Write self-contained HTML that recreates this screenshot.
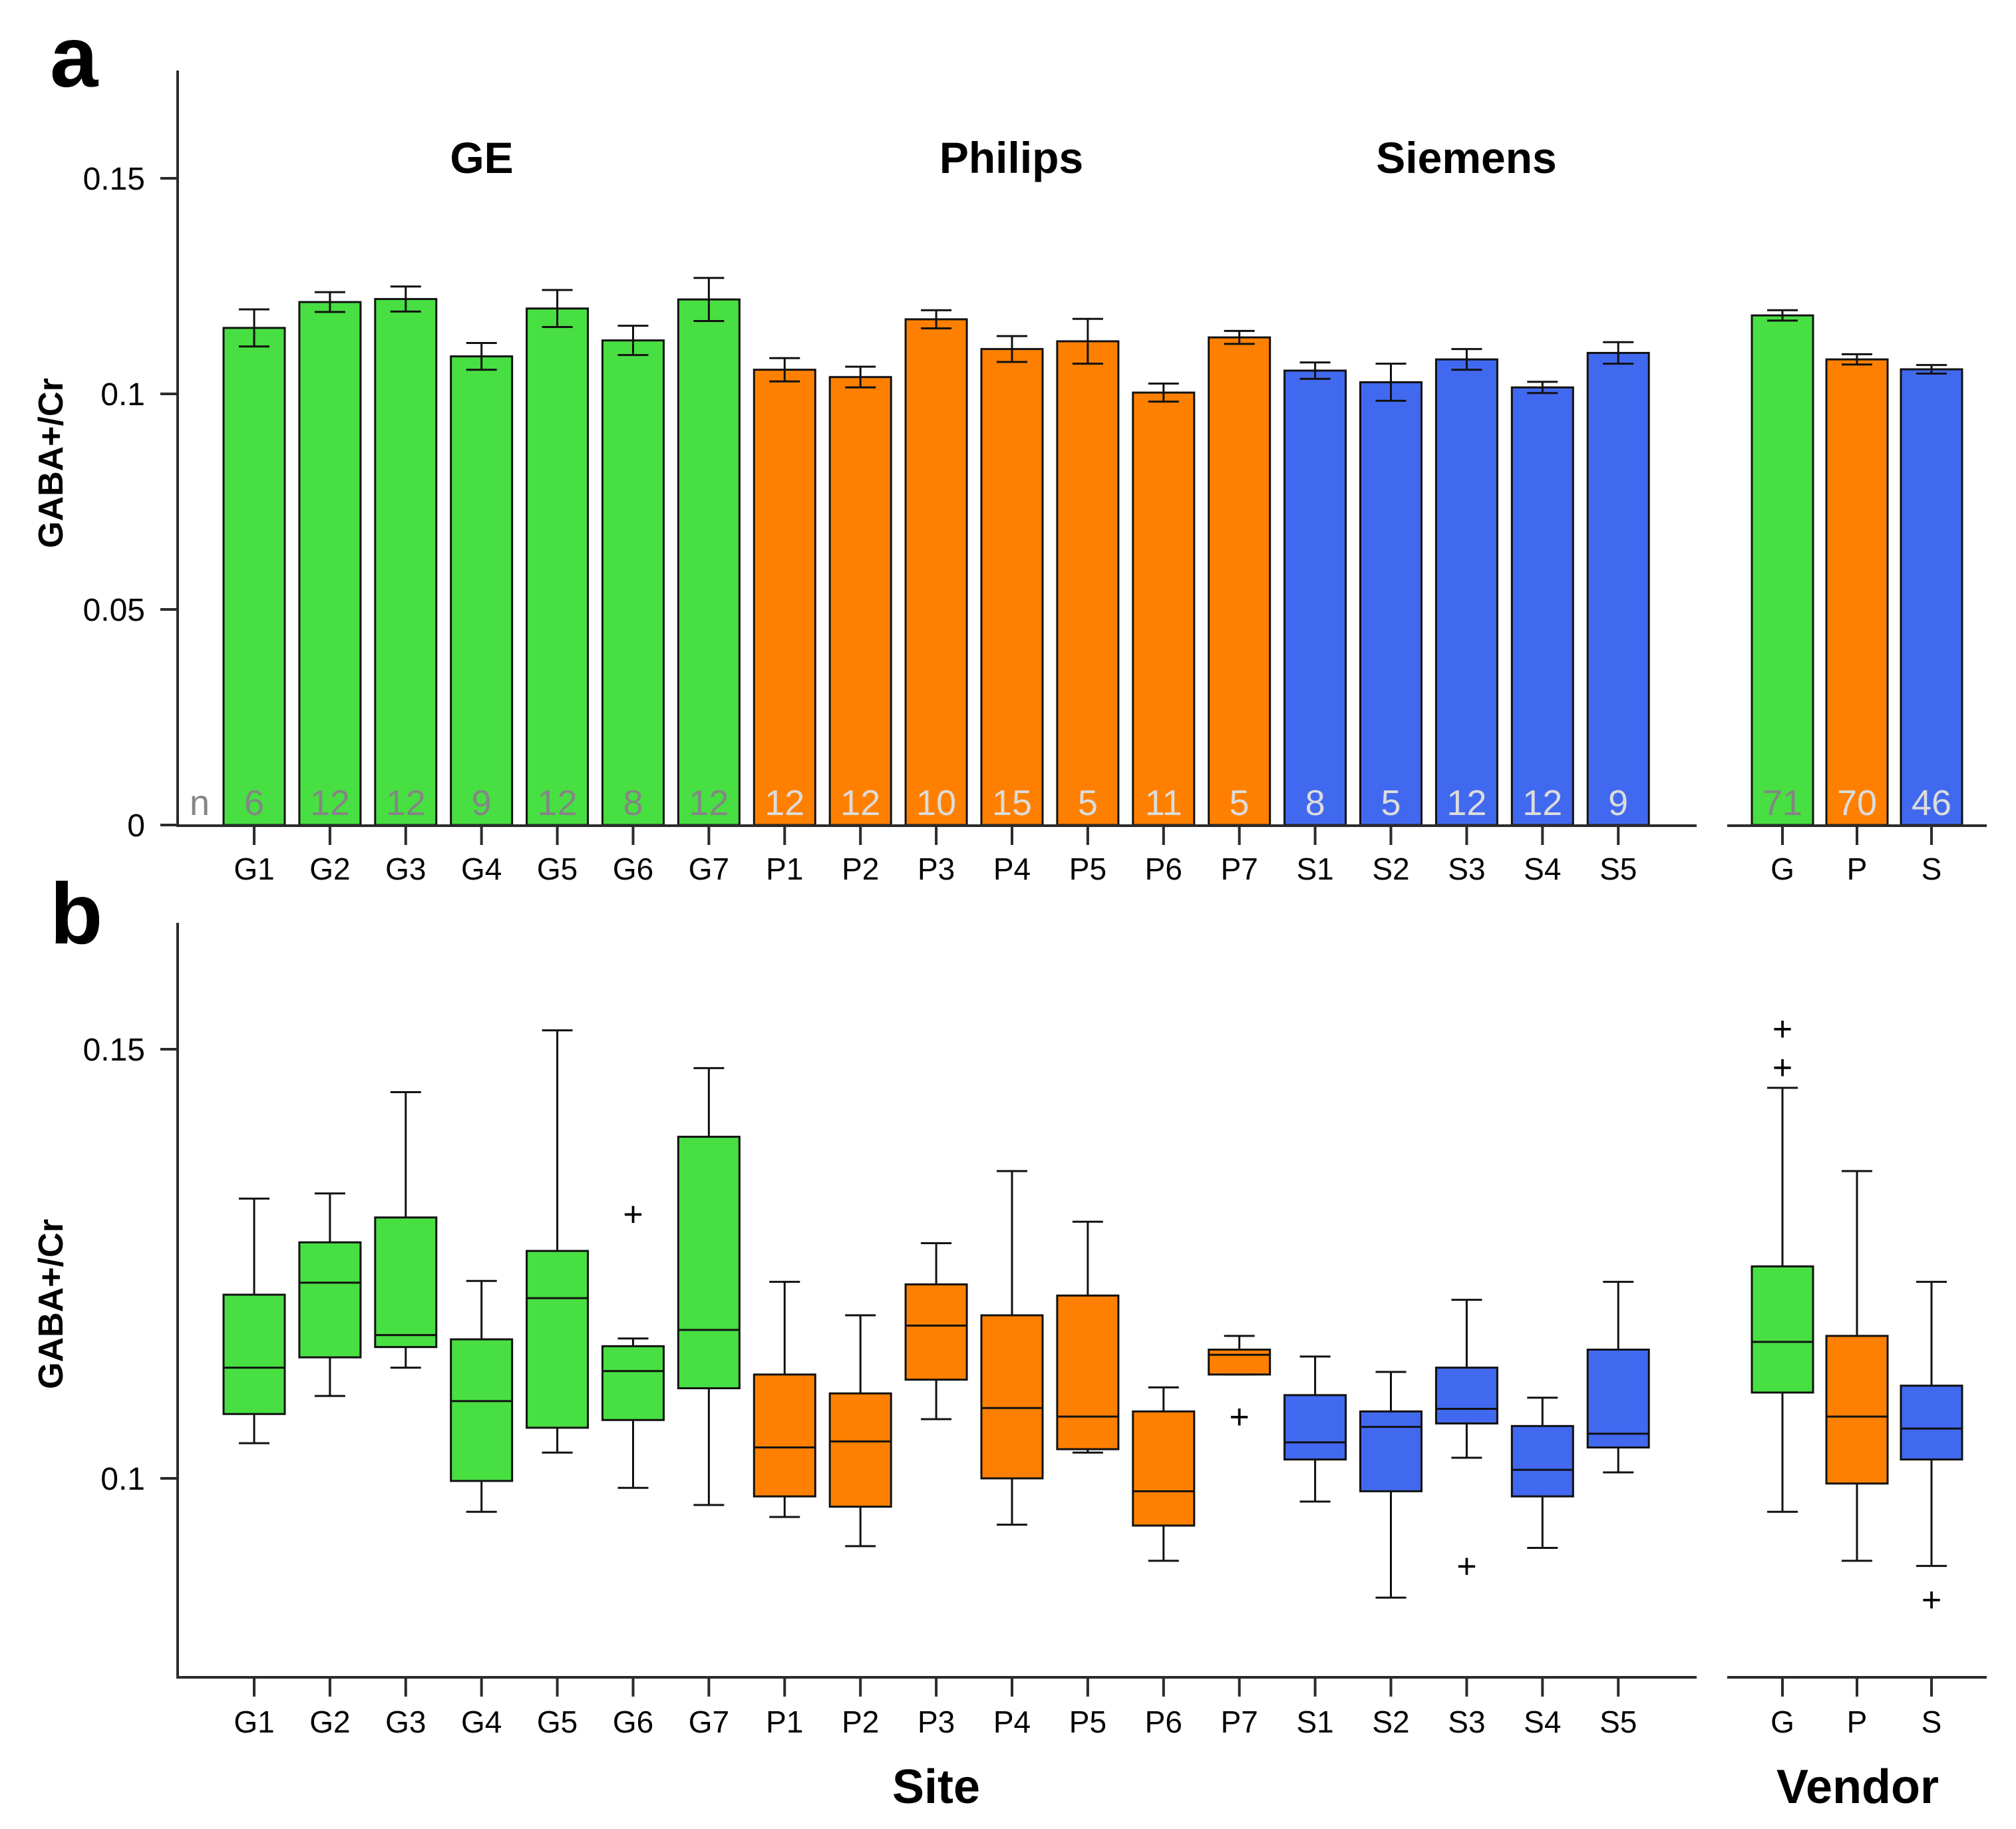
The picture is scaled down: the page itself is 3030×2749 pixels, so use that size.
<!DOCTYPE html>
<html><head><meta charset="utf-8"><style>
html,body{margin:0;padding:0;background:#fff;}
svg{display:block;font-family:"Liberation Sans",Arial,sans-serif;}
</style></head><body>
<svg id="chart" width="3030" height="2749" viewBox="0 0 3030 2749" xmlns="http://www.w3.org/2000/svg">
<text x="75" y="130" font-size="130" font-weight="bold">a</text>
<text x="75" y="1418" font-size="130" font-weight="bold">b</text>
<text transform="translate(94,696) rotate(-90)" text-anchor="middle" font-size="52" font-weight="bold">GABA+/Cr</text>
<text transform="translate(94,1960) rotate(-90)" text-anchor="middle" font-size="52" font-weight="bold">GABA+/Cr</text>
<text x="724" y="260" text-anchor="middle" font-size="66" font-weight="bold">GE</text>
<text x="1520" y="260" text-anchor="middle" font-size="66" font-weight="bold">Philips</text>
<text x="2204" y="260" text-anchor="middle" font-size="66" font-weight="bold">Siemens</text>
<text x="1407" y="2710" text-anchor="middle" font-size="72" font-weight="bold">Site</text>
<text x="2792" y="2710" text-anchor="middle" font-size="72" font-weight="bold">Vendor</text>
<g id="ga"></g><g id="gb"></g>
</svg>
<script>
const siteLabels=["G1","G2","G3","G4","G5","G6","G7","P1","P2","P3","P4","P5","P6","P7","S1","S2","S3","S4","S5"];
const vendorLabels=["G","P","S"];
const siteMeans=[0.1153,0.1213,0.1220,0.1087,0.1198,0.1124,0.1219,0.1056,0.1039,0.1173,0.1104,0.1122,0.1003,0.1131,0.1054,0.1027,0.1080,0.1015,0.1095];
const siteErr=[0.0043,0.0023,0.0029,0.0031,0.0043,0.0034,0.0050,0.0027,0.0024,0.0021,0.0030,0.0052,0.0021,0.0015,0.0019,0.0043,0.0024,0.0013,0.0025];
const siteN=[6,12,12,9,12,8,12,12,12,10,15,5,11,5,8,5,12,12,9];
const vendorMeans=[0.1182,0.1080,0.1057];
const vendorErr=[0.0012,0.0012,0.0010];
const vendorN=[71,70,46];
const yTicksA=[0,0.05,0.1,0.15];
const yTickLabelsA=["0","0.05","0.1","0.15"];
const yTicksB=[0.1,0.15];
const yTickLabelsB=["0.1","0.15"];
// box stats: [whiskerHigh, q3, median, q1, whiskerLow]
const siteBoxes=[
[0.1326,0.1214,0.1129,0.1075,0.1041],[0.1332,0.1275,0.1228,0.1141,0.1096],[0.1450,0.1304,0.1167,0.1153,0.1129],
[0.1230,0.1162,0.1090,0.0997,0.0961],[0.1522,0.1265,0.1210,0.1059,0.1030],[0.1163,0.1154,0.1125,0.1068,0.0989],
[0.1478,0.1398,0.1173,0.1105,0.0969],[0.1229,0.1121,0.1036,0.0979,0.0955],[0.1190,0.1099,0.1043,0.0967,0.0921],
[0.1274,0.1226,0.1178,0.1115,0.1069],[0.1358,0.1190,0.1082,0.1000,0.0946],[0.1299,0.1213,0.1072,0.1034,0.1030],
[0.1106,0.1078,0.0985,0.0945,0.0904],[0.1166,0.1150,0.1144,0.1121,0.1121],[0.1142,0.1097,0.1042,0.1022,0.0973],
[0.1124,0.1078,0.1060,0.0985,0.0861],[0.1208,0.1129,0.1081,0.1064,0.1024],[0.1094,0.1061,0.1010,0.0979,0.0919],
[0.1229,0.1150,0.1052,0.1036,0.1007]];
const siteOutliers=[[],[],[],[],[],[0.1308],[],[],[],[],[],[],[],[0.1072],[],[],[0.0898],[],[]];
const vendorBoxes=[[0.1455,0.1247,0.1159,0.1100,0.0961],[0.1358,0.1166,0.1072,0.0994,0.0904],[0.1229,0.1108,0.1058,0.1022,0.0898]];
const vendorOutliers=[[0.1524,0.1479],[],[0.0859]];

const NS="http://www.w3.org/2000/svg";
const colors={G:"#48df42",P:"#ff8000",S:"#4169ef"};
function el(parent,tag,attrs,text){const e=document.createElementNS(NS,tag);for(const k in attrs)e.setAttribute(k,attrs[k]);if(text!==undefined)e.textContent=text;parent.appendChild(e);return e;}
const siteX=i=>382+i*113.9;
const vendX=i=>2679+i*112;
const BW=92;
const yA=v=>1240-v*(1240-268)/0.15;
const yB=v=>2222-(v-0.1)*(2222-1577)/0.05;
const AX="#2b2b2b";

function axes(g,top,bottom,ticks,labels,yf,xLabelsY,pfx){
  let a=el(g,"line",{x1:267,y1:top,x2:267,y2:bottom,stroke:AX,"stroke-width":4});
  
  a=el(g,"line",{x1:265,y1:bottom,x2:2550,y2:bottom,stroke:AX,"stroke-width":4});
  
  a=el(g,"line",{x1:2596,y1:bottom,x2:2986,y2:bottom,stroke:AX,"stroke-width":4});
  
  ticks.forEach((t,i)=>{
    const y=yf(t);
    let l=el(g,"line",{x1:241,y1:y,x2:267,y2:y,stroke:AX,"stroke-width":4});
    
    let tx=el(g,"text",{x:218,y:y+17,"text-anchor":"end","font-size":48},labels[i]);
    
  });
  siteLabels.forEach((s,i)=>{
    const x=siteX(i);
    let l=el(g,"line",{x1:x,y1:bottom,x2:x,y2:bottom+29,stroke:AX,"stroke-width":4});
    
    let t=el(g,"text",{x:x,y:xLabelsY,"text-anchor":"middle","font-size":46},s);
    
  });
  vendorLabels.forEach((s,i)=>{
    const x=vendX(i);
    let l=el(g,"line",{x1:x,y1:bottom,x2:x,y2:bottom+29,stroke:AX,"stroke-width":4});
    
    let t=el(g,"text",{x:x,y:xLabelsY,"text-anchor":"middle","font-size":46},s);
    
  });
}

const ga=document.getElementById("ga");
function bar(x,v,e,n,lab){
  const c=colors[lab[0]];
  let r=el(ga,"rect",{x:x-BW/2,y:yA(v),width:BW,height:yA(0)-yA(v),fill:c,stroke:"#111","stroke-width":3});
  
  const g=el(ga,"g",{stroke:"#111","stroke-width":3,fill:"none"});
  
  el(g,"line",{x1:x,y1:yA(v+e),x2:x,y2:yA(v-e)});
  el(g,"line",{x1:x-23,y1:yA(v+e),x2:x+23,y2:yA(v+e)});
  el(g,"line",{x1:x-23,y1:yA(v-e),x2:x+23,y2:yA(v-e)});
  let t=el(ga,"text",{x:x,y:1225,"text-anchor":"middle","font-size":54,fill:lab[0]==="G"?"#858585":"#dcdcdc"},String(n));
  
}
siteLabels.forEach((s,i)=>bar(siteX(i),siteMeans[i],siteErr[i],siteN[i],s));
vendorLabels.forEach((s,i)=>bar(vendX(i),vendorMeans[i],vendorErr[i],vendorN[i],s));
let nt=el(ga,"text",{x:300,y:1225,"text-anchor":"middle","font-size":54,fill:"#858585"},"n");

axes(ga,106,1241,yTicksA,yTickLabelsA,yA,1322,'a');

const gb=document.getElementById("gb");
function box(x,b,outs,lab){
  const c=colors[lab[0]];
  const g=el(gb,"g",{stroke:"#111","stroke-width":3});
  
  el(g,"line",{x1:x,y1:yB(b[0]),x2:x,y2:yB(b[4])});
  el(g,"line",{x1:x-23,y1:yB(b[0]),x2:x+23,y2:yB(b[0])});
  el(g,"line",{x1:x-23,y1:yB(b[4]),x2:x+23,y2:yB(b[4])});
  el(g,"rect",{x:x-BW/2,y:yB(b[1]),width:BW,height:yB(b[3])-yB(b[1]),fill:c});
  el(g,"line",{x1:x-BW/2,y1:yB(b[2]),x2:x+BW/2,y2:yB(b[2])});
  outs.forEach(o=>{
    const p=el(gb,"text",{x:x,y:yB(o)+18,"text-anchor":"middle","font-size":52},"+");
    
    
  });
}
siteLabels.forEach((s,i)=>box(siteX(i),siteBoxes[i],siteOutliers[i],s));
vendorLabels.forEach((s,i)=>box(vendX(i),vendorBoxes[i],vendorOutliers[i],s));
axes(gb,1387,2521,yTicksB,yTickLabelsB,yB,2604,'b');
</script>
</body></html>
